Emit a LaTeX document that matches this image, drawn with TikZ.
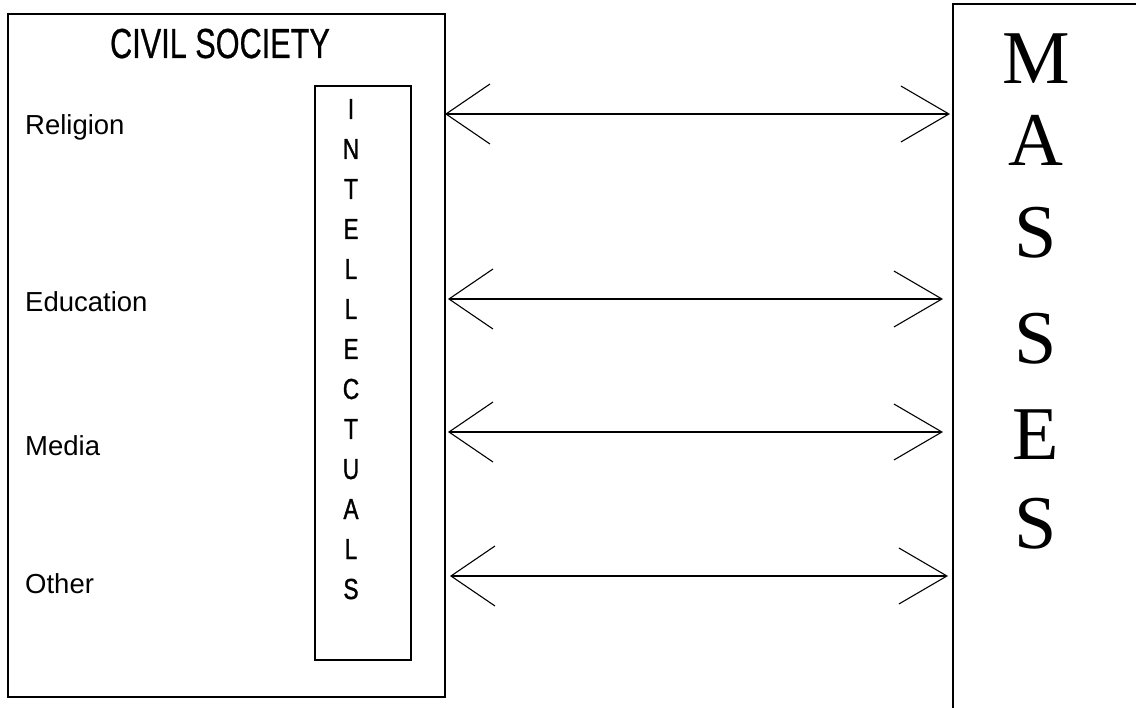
\documentclass[tikz,border=0pt]{standalone}
\usepackage{fontspec}
\setmainfont{Liberation Sans}
\newfontfamily\headfont[FakeStretch=0.73,FakeBold=0.6]{Liberation Sans}
\newfontfamily\columnfont[FakeStretch=0.78,FakeBold=1.2]{Liberation Sans}
\newfontfamily\serifletters{Liberation Serif}
\usetikzlibrary{arrows.meta}
\begin{document}
\begin{tikzpicture}[x=1pt,y=-1pt,
  frame/.style={draw,line width=1.1pt,inner sep=0pt},
  sector/.style={anchor=base west,inner sep=0pt,font=\fontsize{27.5}{30}\selectfont},
  colletter/.style={anchor=base,inner sep=0pt,font=\columnfont\fontsize{29}{30}\selectfont},
  bigletter/.style={anchor=base,inner sep=0pt,font=\serifletters\fontsize{76}{80}\selectfont},
  link/.style={line width=1.1pt,{Straight Barb[length=44pt,width=60pt]}-{Straight Barb[length=48pt,width=56pt]}}]
\useasboundingbox (0,0) rectangle (1136,708);
\fill[white] (0,0) rectangle (1136,708);

% civil society frame
\node[frame,minimum width=437pt,minimum height=683pt] (civil) at (226.5,355.5) {};
\node[anchor=base,inner sep=0pt,font=\headfont\fontsize{42}{44}\selectfont] (title) at (220,58) {CIVIL SOCIETY};

% sectors of civil society
\node[sector] (religion) at (25,135) {Religion};
\node[sector] (education) at (25,312) {Education};
\node[sector] (media) at (25,456) {Media};
\node[sector] (other) at (25,593) {Other};

% intellectuals column
\node[frame,minimum width=96pt,minimum height=574pt] (intel) at (363,373) {};
\foreach \ch [count=\i from 0] in {I,N,T,E,L,L,E,C,T,U,A,L,S}
  \node[colletter] (intel-\i) at (351,119+40*\i) {\ch};

% masses frame, running off the right and bottom
\coordinate (mtl) at (953,4);
\draw[line width=1.1pt] (1136,4) -- (mtl) -- (953,708);
\foreach \ch/\yy [count=\i] in {M/84,A/166,S/258,S/364,E/460,S/548}
  \node[bigletter] (mass-\i) at (1036,\yy) {\ch};

% ends of the two-way links
\coordinate (l1) at (445,114);  \coordinate (r1) at (950,114);
\coordinate (l2) at (448,299);  \coordinate (r2) at (943,299);
\coordinate (l3) at (448,432);  \coordinate (r3) at (943,432);
\coordinate (l4) at (450,576);  \coordinate (r4) at (948,576);
\foreach \k in {1,...,4}
  \draw[link] (l\k) -- (r\k);
\end{tikzpicture}
\end{document}
